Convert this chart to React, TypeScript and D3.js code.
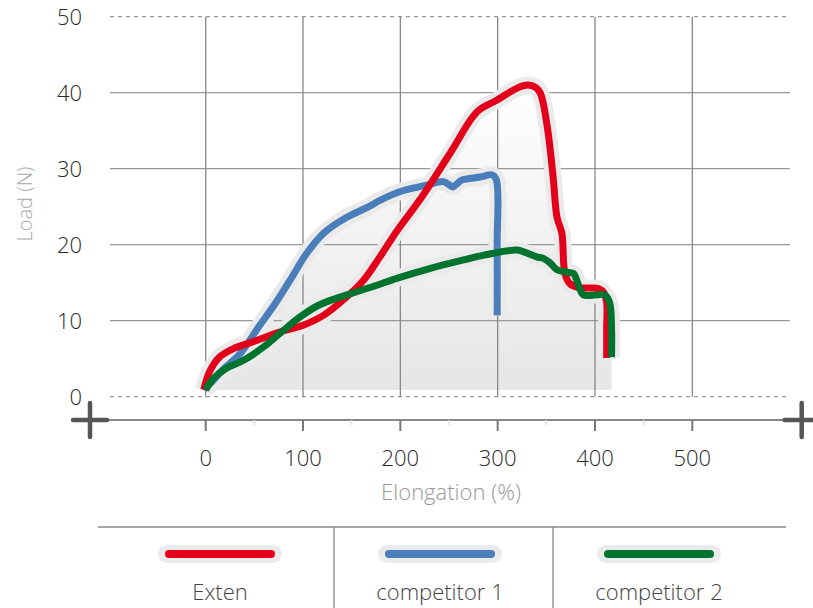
import React from "react";
import * as d3 from "d3";

const xTicks = [0, 100, 200, 300, 400, 500];
const xMinorTicks = [50, 150, 250, 350, 450];
const yTicks = [0, 10, 20, 30, 40, 50];

const seriesNames = ["Exten", "competitor 1", "competitor 2"];
const seriesColors = ["#e2001a", "#4a7ebb", "#00732f"];

const extenX = [-2, 4, 14, 28, 50, 76, 100, 121, 141, 162, 179, 197, 220, 251, 279, 299, 320, 331, 339, 344, 351, 357, 361, 366, 369, 374, 382, 395, 404, 409, 412, 412, 412];
const extenY = [0.9, 3.3, 5.2, 6.3, 7.3, 8.5, 9.4, 10.7, 12.7, 15.3, 18.4, 21.9, 25.9, 32.0, 37.5, 39.0, 40.6, 41.0, 40.7, 39.9, 35.5, 28.9, 23.6, 21.5, 16.3, 14.9, 14.4, 14.3, 14.2, 13.7, 12.4, 9.0, 5.1];

const comp1X = [-2, 8, 18, 35, 55, 69, 87, 104, 121, 145, 166, 180, 200, 226, 244, 250, 254, 258, 263, 282, 294, 298.5, 299.5, 299.5];
const comp1Y = [0.9, 2.2, 3.6, 5.6, 9.3, 11.8, 15.4, 18.9, 21.5, 23.6, 24.9, 25.9, 27.0, 27.8, 28.3, 27.9, 27.6, 28.0, 28.5, 28.9, 29.2, 28.6, 20.0, 10.7];

const comp2X = [0, 8, 22, 39, 59, 76, 97, 117, 145, 172, 197, 231, 265, 285, 320, 330, 340, 347, 354, 361, 371, 378, 381, 385, 388, 402, 410, 415, 417, 417];
const comp2Y = [0.9, 2.4, 3.8, 4.8, 6.5, 8.3, 10.5, 12.1, 13.4, 14.5, 15.6, 16.9, 18.0, 18.6, 19.3, 18.9, 18.4, 18.2, 17.6, 16.7, 16.4, 16.2, 15.4, 14.0, 13.4, 13.4, 13.4, 12.4, 9.0, 5.2];

const W = 813;
const H = 608;
const FONT = "'Open Sans', 'Noto Sans', sans-serif";

export default function App() {
  const x = d3.scaleLinear().domain([0, 500]).range([205.7, 692.3]);
  const y = d3.scaleLinear().domain([0, 50]).range([396.7, 16.7]);

  const toPts = (xs: number[], ys: number[]) => xs.map((v, i) => [v, ys[i]] as [number, number]);
  const red = { name: seriesNames[0], color: seriesColors[0], pts: toPts(extenX, extenY) };
  const blue = { name: seriesNames[1], color: seriesColors[1], pts: toPts(comp1X, comp1Y) };
  const green = { name: seriesNames[2], color: seriesColors[2], pts: toPts(comp2X, comp2Y) };
  const halos = [red, blue, green];
  const lines = [blue, red, green];

  const line = d3
    .line<[number, number]>()
    .x((d) => x(d[0]))
    .y((d) => y(d[1]))
    .curve(d3.curveCatmullRom.alpha(0.5));

  const baseVal = 0.9;
  const area = d3
    .area<[number, number]>()
    .x((d) => x(d[0]))
    .y0(y(baseVal))
    .y1((d) => y(d[1]))
    .curve(d3.curveCatmullRom.alpha(0.5));

  const gridLeft = 110;
  const gridRight = 790;
  const axisY = 420;
  const axisLeft = 90;
  const axisRight = 801.7;

  const legendTop = 527;
  const legendCols = [
    { cx: 220, color: seriesColors[0], label: seriesNames[0] },
    { cx: 440, color: seriesColors[1], label: seriesNames[1] },
    { cx: 659, color: seriesColors[2], label: seriesNames[2] },
  ];

  const plus = (cx: number, cy: number, key: string) => (
    <g key={key} stroke="#555" strokeWidth={4.5} strokeLinecap="round">
      <line x1={cx - 17} x2={cx + 17} y1={cy} y2={cy} />
      <line x1={cx} x2={cx} y1={cy - 17} y2={cy + 17} />
    </g>
  );

  return (
    <svg
      width={W}
      height={H}
      style={{ position: "absolute", left: 0, top: 0, background: "#fff" }}
      fontFamily={FONT}
    >
      <defs>
        <linearGradient id="shade" gradientUnits="userSpaceOnUse" x1="0" x2="0" y1={y(42)} y2={y(baseVal)}>
          <stop offset="0" stopColor="#ffffff" />
          <stop offset="1" stopColor="#e6e6e6" />
        </linearGradient>
      </defs>

      {/* shaded area under curves */}
      {halos.map((s) => (
        <path key={"a" + s.name} d={area(s.pts) || ""} fill="url(#shade)" />
      ))}

      {/* horizontal grid */}
      {yTicks.map((t) => (
        <line
          key={"h" + t}
          x1={gridLeft}
          x2={gridRight}
          y1={y(t)}
          y2={y(t)}
          stroke="#999"
          strokeWidth={t === 0 || t === 50 ? 1.2 : 1.3}
          strokeDasharray={t === 0 || t === 50 ? "4 4" : undefined}
        />
      ))}
      {/* vertical grid */}
      {xTicks.map((t) => (
        <line key={"v" + t} x1={x(t)} x2={x(t)} y1={y(50)} y2={y(0)} stroke="#888" strokeWidth={1.3} />
      ))}

      {/* y tick labels */}
      {yTicks.map((t) => (
        <text key={"yl" + t} x={82} y={y(t)} dy="0.36em" textAnchor="end" fontSize={22} fontWeight={300} fill="#2a2a2a">
          {t}
        </text>
      ))}

      {/* y title */}
      <text
        transform={`translate(32, ${204}) rotate(-90)`}
        textAnchor="middle"
        fontSize={20}
        fontWeight={300}
        fill="#aaaaaa"
      >
        Load (N)
      </text>

      {/* x axis */}
      <line x1={axisLeft} x2={axisRight} y1={axisY} y2={axisY} stroke="#888" strokeWidth={2} />
      {xMinorTicks.map((t) => (
        <line key={"mt" + t} x1={x(t)} x2={x(t)} y1={axisY} y2={axisY + 5} stroke="#ddd" strokeWidth={1.5} />
      ))}
      {xTicks.map((t) => (
        <line key={"t" + t} x1={x(t)} x2={x(t)} y1={axisY} y2={axisY + 11} stroke="#777" strokeWidth={2} />
      ))}
      {xTicks.map((t) => (
        <text key={"xl" + t} x={x(t)} y={466} textAnchor="middle" fontSize={22} fontWeight={300} fill="#2a2a2a">
          {t}
        </text>
      ))}
      {plus(axisLeft, axisY, "pl")}
      {plus(axisRight, axisY, "pr")}

      <text x={451} y={500} textAnchor="middle" fontSize={22} fontWeight={300} fill="#999">
        Elongation (%)
      </text>

      {/* series: halos first, then lines */}
      {halos.map((s) => (
        <path key={"h" + s.name} d={line(s.pts) || ""} fill="none" stroke="#eaeaea" strokeWidth={17} strokeLinejoin="round" />
      ))}
      {lines.map((s) => (
        <path key={"l" + s.name} d={line(s.pts) || ""} fill="none" stroke={s.color} strokeWidth={7} strokeLinejoin="round" />
      ))}

      {/* legend */}
      <line x1={98} x2={786} y1={legendTop} y2={legendTop} stroke="#888" strokeWidth={1.5} />
      <line x1={334} x2={334} y1={legendTop} y2={H} stroke="#888" strokeWidth={1.3} />
      <line x1={553} x2={553} y1={legendTop} y2={H} stroke="#888" strokeWidth={1.3} />
      {legendCols.map((c) => (
        <g key={"lg" + c.label}>
          <line x1={c.cx - 53} x2={c.cx + 53} y1={554} y2={554} stroke="#ebebeb" strokeWidth={18} strokeLinecap="round" />
          <line x1={c.cx - 51} x2={c.cx + 51} y1={554} y2={554} stroke={c.color} strokeWidth={8} strokeLinecap="round" />
          <text x={c.cx} y={600} textAnchor="middle" fontSize={22} fontWeight={300} fill="#444">
            {c.label}
          </text>
        </g>
      ))}
    </svg>
  );
}
